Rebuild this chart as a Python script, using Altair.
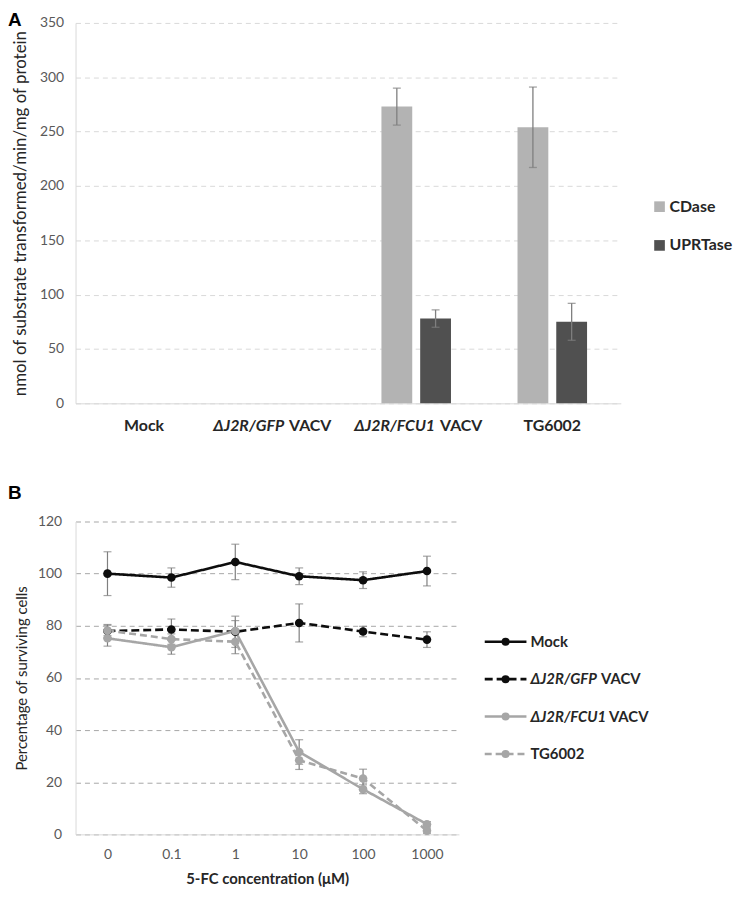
import altair as alt
import pandas as pd

FONT = "Lato"
BLACK = "#0d0d0d"
GREY = "#a6a6a6"
ERR = "#7f7f7f"
LABEL = "#595959"
TEXT = "#262626"

# ---------------- Panel A data ----------------
strains = ["Mock", "ΔJ2R/GFP VACV", "ΔJ2R/FCU1 VACV", "TG6002"]
enzymes = ["CDase", "UPRTase"]
cdase_mean = [0, 0, 273, 254]
cdase_err = [0, 0, 17, 37]
uprtase_mean = [0, 0, 78, 75]
uprtase_err = [0, 0, 8, 17]
a_ticks = [0, 50, 100, 150, 200, 250, 300, 350]

# ---------------- Panel B data ----------------
conc_labels = ["0", "0.1", "1", "10", "100", "1000"]
series_names = ["Mock", "ΔJ2R/GFP VACV", "ΔJ2R/FCU1 VACV", "TG6002"]
mock_vals = [100, 98.5, 104.5, 99, 97.5, 101]
mock_err = [8.4, 3.7, 6.8, 3.2, 3.2, 5.7]
gfp_vals = [78, 78.6, 77.7, 81.1, 77.8, 74.7]
gfp_err = [2.5, 4, 6, 7.3, 2, 3]
fcu1_vals = [75.2, 71.8, 78, 31.6, 17.3, 3.9]
fcu1_err = [3, 2.7, 4, 4.7, 1.7, 1]
tg_vals = [78.2, 74.9, 73.9, 28.4, 21.4, 1.4]
tg_err = [2, 2, 4.6, 3.5, 3.6, 1]
b_ticks = [0, 20, 40, 60, 80, 100, 120]

# ---------------- Panel A ----------------
rowsA = []
for i, s in enumerate(strains):
    rowsA.append(dict(strain=s, enzyme="CDase", value=cdase_mean[i], err=cdase_err[i]))
    rowsA.append(dict(strain=s, enzyme="UPRTase", value=uprtase_mean[i], err=uprtase_err[i]))
dfA = pd.DataFrame(rowsA)
dfA["lo"] = dfA["value"] - dfA["err"]
dfA["hi"] = dfA["value"] + dfA["err"]

WA, HA = 549, 383

xA = alt.X("strain:N", sort=strains,
           scale=alt.Scale(domain=strains, paddingInner=0.489, paddingOuter=0.248),
           axis=alt.Axis(title=None, labels=False, ticks=False, domainColor="#d9d9d9", grid=False))
xoA = alt.XOffset("enzyme:N", sort=enzymes,
                  scale=alt.Scale(domain=enzymes, paddingInner=0.205, paddingOuter=0))
colA = alt.Color("enzyme:N", scale=alt.Scale(domain=enzymes, range=["#b3b3b3", "#505050"]), legend=None)
yscaleA = alt.Scale(domain=[0, 350], nice=False)
yaxisA = alt.Axis(values=a_ticks, grid=True, gridDash=[5, 4], gridColor="#d9d9d9",
                  domainColor="#d9d9d9", ticks=False, labelColor=LABEL, labelFontSize=14,
                  labelPadding=12, title="nmol of substrate transformed/min/mg of protein",
                  titleFontWeight="normal", titleFontSize=17, titleColor=TEXT, titlePadding=10)


def yA(field):
    return alt.Y(field, scale=yscaleA, axis=yaxisA)


baseA = alt.Chart(dfA)
bars = baseA.mark_bar().encode(x=xA, xOffset=xoA, y=yA("value:Q"), color=colA)
errA = baseA.transform_filter("datum.err > 0")
err_rule_A = errA.mark_rule(color=ERR, strokeWidth=1.3).encode(
    x=xA, xOffset=xoA, y=yA("lo:Q"), y2="hi:Q")
cap_hi_A = errA.mark_tick(color=ERR, size=8, thickness=1.3).encode(x=xA, xOffset=xoA, y=yA("hi:Q"))
cap_lo_A = errA.mark_tick(color=ERR, size=8, thickness=1.3).encode(x=xA, xOffset=xoA, y=yA("lo:Q"))

# category labels (italic strain part + upright suffix)
labA = pd.DataFrame({"strain": strains})
split_dx = {"ΔJ2R/GFP VACV": 4, "ΔJ2R/FCU1 VACV": 19}
label_layers = []
for s in strains:
    one = alt.Chart(labA).transform_filter(alt.datum.strain == s)
    if s.startswith("Δ"):
        ital, rest = s.split(" ", 1)
        dx = split_dx[s]
        label_layers.append(one.mark_text(font=FONT, fontSize=16, fontWeight="bold", fontStyle="italic",
                                          color=TEXT, align="right", baseline="middle", dx=dx).encode(
            x=xA, y=alt.value(HA + 23), text=alt.value(ital)))
        label_layers.append(one.mark_text(font=FONT, fontSize=16, fontWeight="bold",
                                          color=TEXT, align="left", baseline="middle", dx=dx + 5).encode(
            x=xA, y=alt.value(HA + 23), text=alt.value(rest)))
    else:
        label_layers.append(one.mark_text(font=FONT, fontSize=16, fontWeight="bold",
                                          color=TEXT, align="center", baseline="middle").encode(
            x=xA, y=alt.value(HA + 23), text="strain:N"))

# legend A
legA = pd.DataFrame({"enzyme": enzymes})
leg_layers_A = []
for i, e in enumerate(enzymes):
    one = alt.Chart(legA).transform_filter(alt.datum.enzyme == e)
    yy = 185 + 39 * i
    leg_layers_A.append(one.mark_square(size=115, opacity=1).encode(
        x=alt.value(WA + 39), y=alt.value(yy), color=colA))
    leg_layers_A.append(one.mark_text(font=FONT, fontSize=16, fontWeight="bold", color=TEXT,
                                      align="left", baseline="middle").encode(
        x=alt.value(WA + 49), y=alt.value(yy), text="enzyme:N"))

tagA = alt.Chart(legA).transform_filter(alt.datum.enzyme == "CDase").mark_text(
    font="Liberation Sans", fontSize=19, fontWeight="bold", color="#000000",
    align="left", baseline="top").encode(x=alt.value(-68), y=alt.value(-12), text=alt.value("A"))

chartA = alt.layer(bars, err_rule_A, cap_hi_A, cap_lo_A, *label_layers, *leg_layers_A, tagA).properties(
    width=WA, height=HA)

# ---------------- Panel B ----------------
rowsB = []
for s, vals, errs in zip(series_names, [mock_vals, gfp_vals, fcu1_vals, tg_vals],
                         [mock_err, gfp_err, fcu1_err, tg_err]):
    for c, v, e in zip(conc_labels, vals, errs):
        rowsB.append(dict(series=s, conc=c, value=v, err=e, lo=v - e, hi=v + e))
dfB = pd.DataFrame(rowsB)

WB, HB = 386, 315
series_colors = [BLACK, BLACK, GREY, GREY]
series_dash = [[1, 0], [8, 4], [1, 0], [7, 4]]

xB = alt.X("conc:N", sort=conc_labels,
           scale=alt.Scale(type="point", domain=conc_labels, padding=0.5),
           axis=alt.Axis(title="5-FC concentration (μM)", ticks=False, domainColor="#d9d9d9",
                         labelAngle=0, labelColor=LABEL, labelFontSize=14, labelPadding=13,
                         titleFontWeight="bold", titleFontSize=15, titleColor=TEXT, titlePadding=10))
yscaleB = alt.Scale(domain=[0, 120], nice=False)
yaxisB = alt.Axis(values=b_ticks, grid=True, gridDash=[5, 4], gridColor="#a6a6a6",
                  domainColor="#d9d9d9", ticks=False, labelColor=LABEL, labelFontSize=14,
                  labelPadding=14, title="Percentage of surviving cells",
                  titleFontWeight="normal", titleFontSize=15, titleColor=TEXT, titlePadding=8)


def yB(field):
    return alt.Y(field, scale=yscaleB, axis=yaxisB)


colB = alt.Color("series:N", scale=alt.Scale(domain=series_names, range=series_colors), legend=None)
dashB = alt.StrokeDash("series:N", scale=alt.Scale(domain=series_names, range=series_dash), legend=None)

baseB = alt.Chart(dfB)
err_rule_B = baseB.mark_rule(color=ERR, strokeWidth=1.2).encode(x=xB, y=yB("lo:Q"), y2="hi:Q")
cap_hi_B = baseB.mark_tick(color=ERR, size=8, thickness=1.2).encode(x=xB, y=yB("hi:Q"))
cap_lo_B = baseB.mark_tick(color=ERR, size=8, thickness=1.2).encode(x=xB, y=yB("lo:Q"))
lines_B = baseB.mark_line(strokeWidth=2.6).encode(
    x=xB, y=yB("value:Q"), color=colB, strokeDash=dashB, detail="series:N",
    order=alt.Order("conc_idx:Q")).transform_calculate(
    conc_idx="indexof(%s, datum.conc)" % str(conc_labels))
points_B = baseB.mark_circle(size=75, opacity=1).encode(x=xB, y=yB("value:Q"), color=colB)

legB = pd.DataFrame({"series": series_names})
leg_layers_B = []
ital_w = {"ΔJ2R/GFP VACV": 71, "ΔJ2R/FCU1 VACV": 79}
for i, s in enumerate(series_names):
    one = alt.Chart(legB).transform_filter(alt.datum.series == s)
    yy = 121 + 37.7 * i
    leg_layers_B.append(one.mark_rule(strokeWidth=2.6, strokeDash=series_dash[i], color=series_colors[i]).encode(
        x=alt.value(WB + 26), x2=alt.value(WB + 68), y=alt.value(yy)))
    leg_layers_B.append(one.mark_circle(size=65, opacity=1, color=series_colors[i]).encode(
        x=alt.value(WB + 47), y=alt.value(yy)))
    if s.startswith("Δ"):
        ital, rest = s.split(" ", 1)
        leg_layers_B.append(one.mark_text(font=FONT, fontSize=15, fontWeight="bold", fontStyle="italic",
                                          color=TEXT, align="left", baseline="middle").encode(
            x=alt.value(WB + 72), y=alt.value(yy), text=alt.value(ital)))
        leg_layers_B.append(one.mark_text(font=FONT, fontSize=15, fontWeight="bold",
                                          color=TEXT, align="left", baseline="middle").encode(
            x=alt.value(WB + 72 + ital_w[s]), y=alt.value(yy), text=alt.value(rest)))
    else:
        leg_layers_B.append(one.mark_text(font=FONT, fontSize=15, fontWeight="bold",
                                          color=TEXT, align="left", baseline="middle").encode(
            x=alt.value(WB + 72), y=alt.value(yy), text="series:N"))

tagB = alt.Chart(legB).transform_filter(alt.datum.series == "Mock").mark_text(
    font="Liberation Sans", fontSize=19, fontWeight="bold", color="#000000",
    align="left", baseline="top").encode(x=alt.value(-68), y=alt.value(-38), text=alt.value("B"))

chartB = alt.layer(err_rule_B, cap_hi_B, cap_lo_B, lines_B, points_B, *leg_layers_B, tagB).properties(
    width=WB, height=HB)

chart = alt.vconcat(chartA, chartB, spacing=50).resolve_scale(
    color="independent", strokeDash="independent"
).properties(
    padding={"left": 0, "top": 0, "right": 5, "bottom": 5}
).configure_view(stroke=None).configure_axis(labelFont=FONT, titleFont=FONT)

chart.save("out.html", embed_options={"renderer": "svg", "actions": False})
